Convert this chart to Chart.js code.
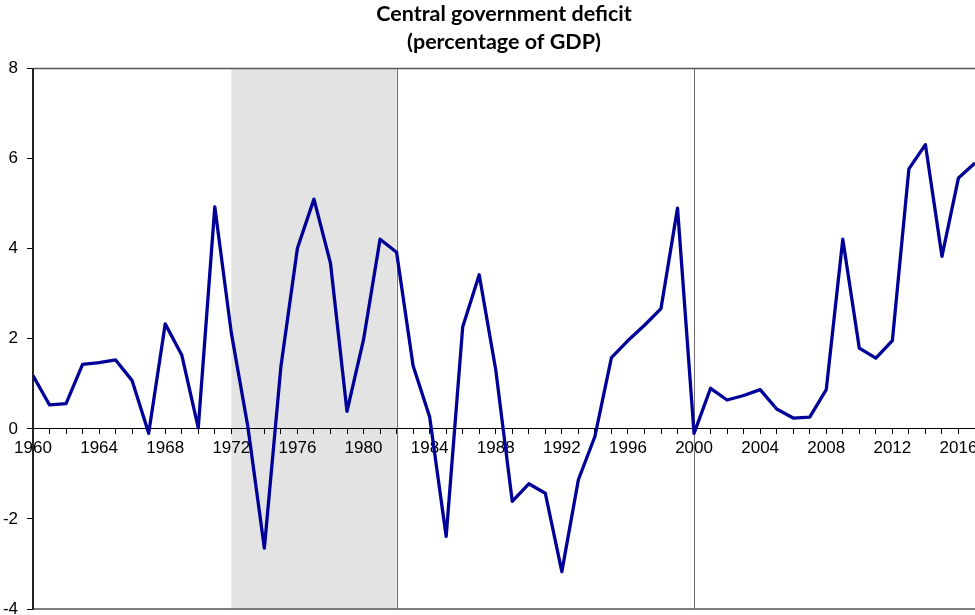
<!DOCTYPE html>
<html>
<head>
<meta charset="utf-8">
<script src="https://cdn.jsdelivr.net/npm/chart.js@4"></script>
<style>
  html, body { margin: 0; padding: 0; background: #fff; }
  #wrap { width: 975px; height: 615px; }
</style>
</head>
<body>
<div id="wrap"><canvas id="deficit" width="975" height="615"></canvas></div>
<script>
const years = [
  1960, 1961, 1962, 1963, 1964, 1965, 1966, 1967, 1968, 1969,
  1970, 1971, 1972, 1973, 1974, 1975, 1976, 1977, 1978, 1979,
  1980, 1981, 1982, 1983, 1984, 1985, 1986, 1987, 1988, 1989,
  1990, 1991, 1992, 1993, 1994, 1995, 1996, 1997, 1998, 1999,
  2000, 2001, 2002, 2003, 2004, 2005, 2006, 2007, 2008, 2009,
  2010, 2011, 2012, 2013, 2014, 2015, 2016, 2017,
];
const deficit = [
  1.18, 0.53, 0.56, 1.43, 1.47, 1.53, 1.07, -0.10, 2.33, 1.64,
  0.02, 4.93, 2.13, 0.05, -2.65, 1.38, 4.01, 5.10, 3.68, 0.39,
  1.98, 4.21, 3.92, 1.40, 0.27, -2.39, 2.26, 3.42, 1.31, -1.61,
  -1.22, -1.43, -3.17, -1.13, -0.17, 1.58, 1.96, 2.30, 2.67, 4.90,
  -0.10, 0.90, 0.64, 0.74, 0.87, 0.44, 0.24, 0.26, 0.87, 4.21,
  1.79, 1.57, 1.96, 5.77, 6.31, 3.83, 5.57, 5.90,
];
const shadedPeriod = [1972, 1982];
const markerYears = [1982, 2000];
const titleLines = ['Central government deficit', '(percentage of GDP)'];

// shading, frame and marker lines go under the axes and the series
const backdropPlugin = {
  id: 'backdrop',
  beforeDraw: chart => {
    const { ctx, chartArea: a, scales: { x } } = chart;
    ctx.save();
    const x0 = x.getPixelForValue(shadedPeriod[0]);
    const x1 = x.getPixelForValue(shadedPeriod[1]);
    ctx.fillStyle = '#e3e3e3';
    ctx.fillRect(x0, a.top, x1 - x0, a.bottom - a.top);

    ctx.lineWidth = 1;
    ctx.strokeStyle = '#6e6e6e';
    for (const yr of markerYears) {
      const px = Math.round(x.getPixelForValue(yr)) + 0.5;
      ctx.beginPath();
      ctx.moveTo(px, a.top);
      ctx.lineTo(px, a.bottom);
      ctx.stroke();
    }

    ctx.strokeStyle = '#555';
    ctx.lineWidth = 1.5;
    ctx.beginPath();
    ctx.moveTo(a.left, a.top);
    ctx.lineTo(a.right, a.top);
    ctx.moveTo(a.left, a.bottom);
    ctx.lineTo(a.right, a.bottom);
    ctx.stroke();
    ctx.restore();
  },
};

const tickFont = { family: '"Liberation Sans", Arial, sans-serif', size: 17 };

new Chart(document.getElementById('deficit'), {
  type: 'line',
  data: {
    datasets: [{
      data: years.map((yr, i) => ({ x: yr, y: deficit[i] })),
      borderColor: '#000099',
      borderWidth: 3.3,
      borderJoinStyle: 'round',
      pointRadius: 0,
      tension: 0,
      fill: false,
    }],
  },
  options: {
    responsive: false,
    animation: false,
    layout: { padding: { top: 0, right: 0, bottom: 6, left: 0 } },
    scales: {
      x: {
        type: 'linear',
        min: 1960,
        max: 2017,
        position: { y: 0 },
        afterFit: s => { s.paddingLeft = 0; s.paddingRight = 0; },
        grid: { drawOnChartArea: false, drawTicks: true, tickLength: 5, color: '#000' },
        border: { display: true, color: '#000', width: 1 },
        ticks: {
          stepSize: 1,
          autoSkip: false,
          maxRotation: 0,
          padding: 4,
          color: '#000',
          font: tickFont,
          callback: v => (v % 4 === 0 ? String(v) : ''),
        },
      },
      y: {
        min: -4,
        max: 8,
        afterFit: s => { s.width = 33; s.paddingTop = 0; s.paddingBottom = 0; },
        grid: { drawOnChartArea: false, drawTicks: true, tickLength: 6, color: '#000' },
        border: { display: true, color: '#222', width: 2 },
        ticks: { stepSize: 2, padding: 9, color: '#000', font: tickFont },
      },
    },
    plugins: {
      legend: { display: false },
      tooltip: { enabled: false },
      title: {
        display: true,
        fullSize: false,
        text: titleLines,
        color: '#000',
        font: { family: 'Lato, "Open Sans", sans-serif', size: 21.5, weight: 'bold', lineHeight: 28 / 21.5 },
        padding: { top: 0, bottom: 12.5 },
      },
    },
  },
  plugins: [backdropPlugin],
});
</script>
</body>
</html>
